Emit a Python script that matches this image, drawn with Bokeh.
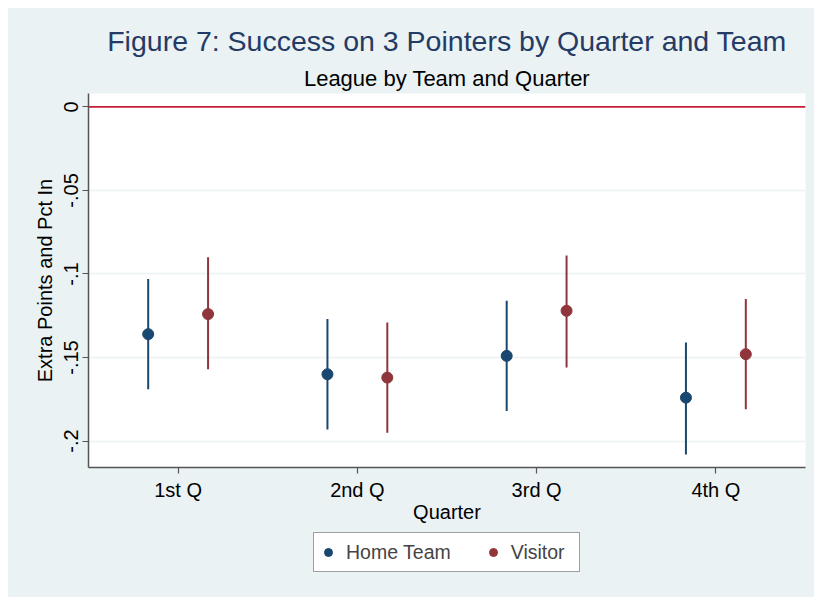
import numpy as np
from bokeh.plotting import figure
from bokeh.layouts import column
from bokeh.models import (Range1d, FixedTicker, Span, Legend, LegendItem, Title,
                          ColumnDataSource)
from bokeh.embed import file_html
from bokeh.resources import INLINE

# ---- data ----
quarters = ["1st Q", "2nd Q", "3rd Q", "4th Q"]
home_est = [-0.136, -0.160, -0.149, -0.174]
home_lo = [-0.169, -0.193, -0.182, -0.208]
home_hi = [-0.103, -0.127, -0.116, -0.141]
vis_est = [-0.124, -0.162, -0.122, -0.148]
vis_lo = [-0.157, -0.195, -0.156, -0.181]
vis_hi = [-0.090, -0.129, -0.089, -0.115]
y_ticks = [0, -0.05, -0.1, -0.15, -0.2]
y_tick_labels = ["0", "-.05", "-.1", "-.15", "-.2"]
series_names = ["Home Team", "Visitor"]

FONT = "Liberation Sans"
NAVY = "#1A476F"
MAROON = "#90353B"
BG = "#EAF2F3"

qpos = np.arange(1, len(quarters) + 1)
dodge = 0.167

home_src = ColumnDataSource(dict(x=qpos - dodge, est=home_est, lo=home_lo, hi=home_hi))
vis_src = ColumnDataSource(dict(x=qpos + dodge, est=vis_est, lo=vis_lo, hi=vis_hi))

FW, FH = 717, 374
p = figure(frame_width=FW, frame_height=FH, output_backend="svg", toolbar_location=None,
           x_range=Range1d(0.5, 4.5), y_range=Range1d(-0.2158, 0.008),
           min_border_left=80, min_border_right=9, min_border_top=85,
           min_border_bottom=62)
p.background_fill_color = "white"
p.border_fill_color = BG
p.outline_line_color = None

# titles (first added sits closest to the plot)
p.add_layout(Title(text="League by Team and Quarter", align="center",
                   text_font=FONT, text_font_size="22px", text_font_style="normal",
                   text_color="black", standoff=5), "above")
p.add_layout(Title(text="Figure 7: Success on 3 Pointers by Quarter and Team", align="center",
                   text_font=FONT, text_font_size="28.5px", text_font_style="normal",
                   text_color="#243B66", standoff=10), "above")

# zero line
p.add_layout(Span(location=0, dimension="width", line_color="#C41E3A", line_width=1.6))

# error bars and points
p.segment(x0="x", y0="lo", x1="x", y1="hi", source=home_src, line_color=NAVY, line_width=2)
p.segment(x0="x", y0="lo", x1="x", y1="hi", source=vis_src, line_color=MAROON, line_width=2)
p.scatter(x="x", y="est", source=home_src, size=11, marker="circle",
          fill_color=NAVY, line_color=NAVY)
p.scatter(x="x", y="est", source=vis_src, size=11, marker="circle",
          fill_color=MAROON, line_color=MAROON)

# axes
for ax in (p.xaxis[0], p.yaxis[0]):
    ax.axis_line_color = "#555555"
    ax.axis_line_width = 1.5
    ax.major_tick_line_color = "#555555"
    ax.major_tick_line_width = 1.2
    ax.major_tick_in = 0
    ax.major_tick_out = 6
    ax.minor_tick_line_color = None
    ax.major_label_text_font = FONT
    ax.major_label_text_font_size = "20px"
    ax.major_label_text_color = "black"
    ax.axis_label_text_font = FONT
    ax.axis_label_text_font_size = "20px"
    ax.axis_label_text_font_style = "normal"
    ax.axis_label_text_color = "black"

p.xaxis.ticker = FixedTicker(ticks=list(qpos))
p.xaxis.major_label_overrides = {int(q): lab for q, lab in zip(qpos, quarters)}
p.xaxis.axis_label = "Quarter"
p.xaxis.major_label_standoff = 5
p.xaxis.axis_label_standoff = -3

p.yaxis.ticker = FixedTicker(ticks=y_ticks)
p.yaxis.major_label_overrides = {t: lab for t, lab in zip(y_ticks, y_tick_labels)}
p.yaxis.major_label_orientation = "vertical"
p.yaxis.axis_label = "Extra Points and Pct In"
p.yaxis.major_label_standoff = 4
p.yaxis.axis_label_standoff = 6

p.xgrid.visible = False
p.ygrid.grid_line_color = BG
p.ygrid.grid_line_width = 1.5

# ---- legend strip below the main figure ----
leg = figure(width=806, height=68, output_backend="svg", toolbar_location=None,
             x_range=Range1d(0, 1), y_range=Range1d(0, 1),
             x_axis_location=None, y_axis_location=None,
             min_border_left=0, min_border_right=0, min_border_top=0, min_border_bottom=0)
leg.background_fill_color = BG
leg.border_fill_color = BG
leg.outline_line_color = None
leg.xgrid.visible = False
leg.ygrid.visible = False
lr_home = leg.scatter(x=[-10], y=[-10], size=11, marker="circle",
                      fill_color=NAVY, line_color=NAVY)
lr_vis = leg.scatter(x=[-10], y=[-10], size=11, marker="circle",
                     fill_color=MAROON, line_color=MAROON)
legend = Legend(items=[LegendItem(label=series_names[0], renderers=[lr_home]),
                       LegendItem(label=series_names[1], renderers=[lr_vis])],
                orientation="horizontal", location=(225, 25),
                border_line_color="#404040", border_line_width=1,
                background_fill_color="white", background_fill_alpha=1,
                label_text_font=FONT, label_text_font_size="19.5px",
                glyph_width=20, glyph_height=30, spacing=32, padding=4,
                label_width=64, margin=0, label_standoff=8)
leg.add_layout(legend)

layout = column(p, leg, spacing=0, margin=(8, 0, 0, 8),
                styles={"background-color": BG})
open("out.html", "w").write(file_html(layout, INLINE))
